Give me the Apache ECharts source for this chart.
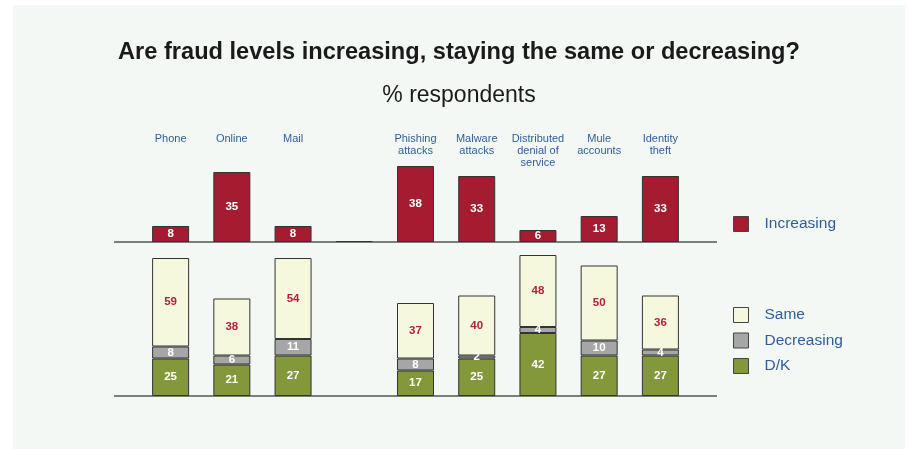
<!DOCTYPE html>
<html>
<head>
<meta charset="utf-8">
<script src="https://cdn.jsdelivr.net/npm/echarts@6/dist/echarts.min.js"></script>
<style>
  html, body { margin: 0; padding: 0; background: #ffffff; }
  #chart { width: 909px; height: 449px; }
</style>
</head>
<body>
<div id="chart"></div>
<script>
// categories (blank slot separates channels from fraud types)
var categories = ['Phone', 'Online', 'Mail', '', 'Phishing\nattacks', 'Malware\nattacks',
    'Distributed\ndenial of\nservice', 'Mule\naccounts', 'Identity\ntheft'];

// % respondents
var increasing = [8, 35, 8, 0.5, 38, 33, 6, 13, 33];
var dontKnow   = [25, 21, 27, null, 17, 25, 42, 27, 27];
var decreasing = [8, 6, 11, null, 8, 2, 4, 10, 4];
var same       = [59, 38, 54, null, 37, 40, 48, 50, 36];

var RED = '#a51c30', GREEN = '#83983a', GREY = '#a6a6a6', CREAM = '#f6f8de';
var BLUE = '#2f5e9c';

function lbl(color) {
    return {
        show: true,
        position: 'inside',
        color: color,
        fontWeight: 'bold',
        fontSize: 11.5,
        fontFamily: 'Liberation Sans',
        formatter: function (p) { return p.value >= 1 ? p.value : ''; }
    };
}

var legendText = { color: BLUE, fontSize: 15.5, padding: [0, 0, 0, 11] };

var myChart = echarts.init(document.getElementById('chart'));
myChart.setOption({
    animation: false,
    textStyle: { fontFamily: 'Liberation Sans' },
    title: [{
        text: 'Are fraud levels increasing, staying the same or decreasing?',
        left: 454, top: 35, textAlign: 'center',
        textStyle: { fontSize: 23.6, fontWeight: 'bold', color: '#1a1a1a' }
    }, {
        text: '% respondents',
        left: 454, top: 79, textAlign: 'center',
        textStyle: { fontSize: 23, fontWeight: 'normal', color: '#1a1a1a' }
    }],
    graphic: [
        { type: 'rect', z: -10, shape: { x: 13, y: 5, width: 892, height: 444 },
          style: { fill: '#f4f8f5' } },
        { type: 'line', z: 1, shape: { x1: 114, y1: 242, x2: 717, y2: 242 },
          style: { stroke: '#555', lineWidth: 1.5 } },
        { type: 'line', z: 1, shape: { x1: 114, y1: 396, x2: 717, y2: 396 },
          style: { stroke: '#555', lineWidth: 1.5 } }
    ],
    legend: [{
        data: ['Increasing'],
        icon: 'rect', padding: 0,
        left: 733, top: 216,
        itemWidth: 15, itemHeight: 15,
        textStyle: legendText,
        itemStyle: { borderColor: '#444', borderWidth: 1 }
    }, {
        data: ['Same', 'Decreasing', 'D/K'],
        icon: 'rect', padding: 0,
        orient: 'vertical',
        left: 733, top: 307, itemGap: 9.5,
        itemWidth: 15, itemHeight: 15,
        textStyle: legendText,
        itemStyle: { borderColor: '#444', borderWidth: 1 }
    }],
    grid: [
        { left: 140, width: 551, top: 162, height: 80 },
        { left: 140, width: 551, top: 246, height: 150 }
    ],
    xAxis: [{
        gridIndex: 0, type: 'category', data: categories, position: 'top',
        axisLine: { show: false }, axisTick: { show: false },
        axisLabel: {
            interval: 0, margin: 29, verticalAlign: 'top',
            color: BLUE, fontSize: 11, lineHeight: 12
        }
    }, {
        gridIndex: 1, type: 'category', data: categories,
        axisLine: { show: false }, axisTick: { show: false },
        axisLabel: { show: false }
    }],
    yAxis: [{
        gridIndex: 0, type: 'value', min: 0, max: 40, show: false
    }, {
        gridIndex: 1, type: 'value', min: 0, max: 100, show: false
    }],
    series: [{
        name: 'Increasing', type: 'bar', xAxisIndex: 0, yAxisIndex: 0,
        data: increasing, barWidth: 37,
        itemStyle: { color: RED, borderColor: '#333', borderWidth: 1 },
        label: lbl('#ffffff')
    }, {
        name: 'D/K', type: 'bar', xAxisIndex: 1, yAxisIndex: 1, stack: 'b',
        data: dontKnow, barWidth: 37,
        itemStyle: { color: GREEN, borderColor: '#333', borderWidth: 1 },
        label: lbl('#ffffff')
    }, {
        name: 'Decreasing', type: 'bar', xAxisIndex: 1, yAxisIndex: 1, stack: 'b',
        data: decreasing, barWidth: 37,
        itemStyle: { color: GREY, borderColor: '#333', borderWidth: 1 },
        label: lbl('#ffffff')
    }, {
        name: 'Same', type: 'bar', xAxisIndex: 1, yAxisIndex: 1, stack: 'b',
        data: same, barWidth: 37,
        itemStyle: { color: CREAM, borderColor: '#333', borderWidth: 1 },
        label: lbl('#b5203a')
    }]
});
</script>
</body>
</html>
